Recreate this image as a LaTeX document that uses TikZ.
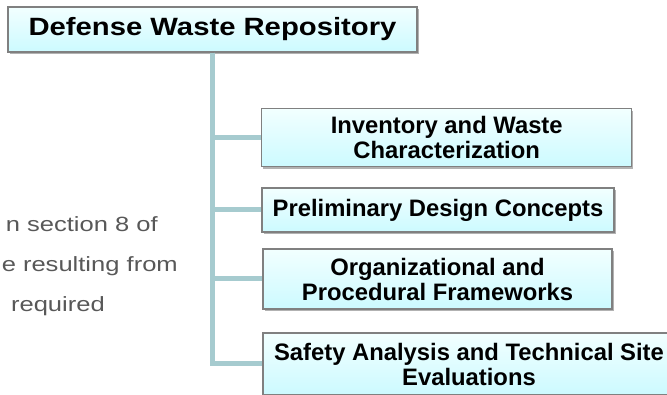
\documentclass[tikz,border=0pt]{standalone}
\usepackage{fontspec}
\setmainfont{Liberation Sans}
\newfontfamily\headfont[FakeStretch=1.17]{Liberation Sans}
\newfontfamily\notefont[FakeStretch=1.24]{Liberation Sans}
\usetikzlibrary{shadows}
\definecolor{trunkcol}{RGB}{166,203,207}
\definecolor{boxline}{RGB}{128,128,128}
\definecolor{boxtop}{RGB}{242,255,255}
\definecolor{boxbot}{RGB}{204,250,255}
\definecolor{notecol}{RGB}{88,88,88}
\begin{document}
\begin{tikzpicture}[x=1pt, y=-1pt, line join=miter,
    box/.style={draw=boxline, line width=1.2pt, top color=boxtop, bottom color=boxbot, inner sep=0pt, align=center,
      drop shadow={shadow xshift=1.5pt, shadow yshift=-2.5pt, fill=black, opacity=.3},
      font=\bfseries\fontsize{23.8}{25}\selectfont},
    branch/.style={draw=trunkcol, line width=5pt},
    note/.style={anchor=base east, text=notecol, inner sep=0pt, font=\notefont\fontsize{20.6}{24}\selectfont}]
    \useasboundingbox (0,0) rectangle (667,395);
    % text of the slide behind
    \node[note] (note1) at (158,232) {n section 8 of};
    \node[note] (note2) at (178,272) {e resulting from};
    \node[note] (note3) at (105,312) {required};
    % boxes
    \node[box, minimum width=409pt, minimum height=45pt, font=\headfont\bfseries\fontsize{25}{28}\selectfont] (repo) at (212.5,29.5) {Defense Waste Repository};
    \node[box, minimum width=370pt, minimum height=58pt] (inv) at (446.7,137.5) {Inventory and Waste\\Characterization};
    \node[box, minimum width=352pt, minimum height=44pt] (design) at (438,210) {Preliminary Design Concepts};
    \node[box, minimum width=349pt, minimum height=60pt] (org) at (437.5,279) {Organizational and\\Procedural Frameworks};
    \node[box, minimum width=412pt, minimum height=62pt] (safety) at (469,364) {Safety Analysis and Technical Site\\Evaluations};
    % tree lines
    \foreach \b in {inv,design,org,safety}\draw[branch] (repo.south) |- (\b.west);
\end{tikzpicture}
\end{document}
